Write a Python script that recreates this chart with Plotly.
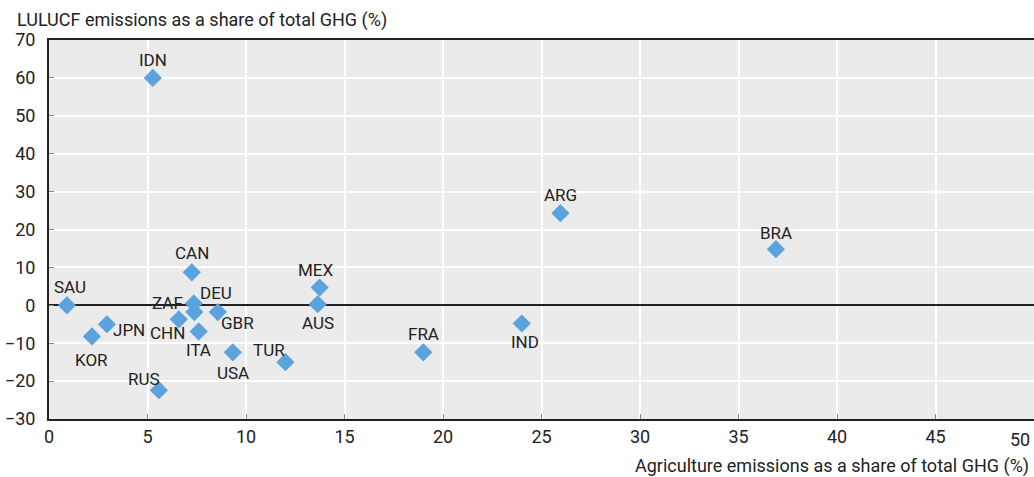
import plotly.graph_objects as go

countries = ["IDN", "SAU", "KOR", "JPN", "RUS", "CHN", "ZAF", "DEU", "CAN", "ITA",
             "GBR", "USA", "TUR", "MEX", "AUS", "FRA", "IND", "ARG", "BRA"]
agri = [5.27, 0.91, 2.18, 2.94, 5.58, 6.59, 7.35, 7.38, 7.25, 7.6,
        8.57, 9.33, 12.0, 13.74, 13.64, 19.0, 24.0, 25.96, 36.9]
lulucf = [60.0, 0.0, -8.2, -5.0, -22.4, -3.7, 0.5, -1.8, 8.7, -6.9,
          -1.8, -12.4, -15.0, 4.7, 0.3, -12.4, -4.8, 24.3, 14.8]
x_ticks = [0, 5, 10, 15, 20, 25, 30, 35, 40, 45, 50]
x_ticktext = ["0", "5", "10", "15", "20", "25", "30", "35", "40", "45", ""]

# label offsets in pixels (dx right, dy up) from each diamond
label_dx = [0, 3, 0, 22, -15, -11, -26, 22, 0, 0, 20, 0, -16, -4, 0, 0, 3, 0, 0]
label_dy = [18, 18, -24, -6, 11, -14, 0, 19, 19, -19, -11, -21, 12, 17, -19, 18, -19, 18, 16]

font = "Roboto, sans-serif"

fig = go.Figure()
fig.add_trace(go.Scatter(
    x=agri, y=lulucf, mode="markers",
    marker=dict(symbol="diamond", size=14, color="#5ba3dc"),
    cliponaxis=False, showlegend=False, hoverinfo="text", text=countries,
))

annotations = [
    dict(text=c, x=xv, y=yv, xref="x", yref="y", xshift=dx, yshift=dy,
         xanchor="center", yanchor="middle", showarrow=False, font=dict(size=17))
    for c, xv, yv, dx, dy in zip(countries, agri, lulucf, label_dx, label_dy)
]
annotations += [
    dict(text="LULUCF emissions as a share of total GHG (%)", xref="paper", yref="paper",
         x=0, y=1, xshift=-34, yshift=7, xanchor="left", yanchor="bottom",
         showarrow=False),
    dict(text="Agriculture emissions as a share of total GHG (%)", xref="paper", yref="paper",
         x=1, y=0, xshift=-3, yshift=-34, xanchor="right", yanchor="top",
         showarrow=False),
    dict(text="50", xref="x", yref="paper", x=50, y=0, xshift=-2, yshift=-8,
         xanchor="right", yanchor="top", showarrow=False),
]

fig.update_layout(
    width=1034, height=477,
    margin=dict(l=49, r=0, t=40, b=58),
    paper_bgcolor="white", plot_bgcolor="#ebebeb",
    font=dict(family=font, size=18, color="#222222"),
    xaxis=dict(range=[0, 50], tickvals=x_ticks, ticktext=x_ticktext,
               showgrid=True, gridcolor="white", gridwidth=1.5,
               zeroline=False, showline=True, linecolor="#222222", linewidth=2, mirror=True,
               ticks="inside", ticklen=5, tickcolor="#888888"),
    yaxis=dict(range=[-30, 70], dtick=10, showgrid=True, gridcolor="white", gridwidth=1.5,
               zeroline=True, zerolinecolor="#222222", zerolinewidth=2,
               showline=True, linecolor="#222222", linewidth=2,
               ticks="inside", ticklen=5, tickcolor="#888888", ticklabelstandoff=8),
    annotations=annotations,
)

fig.write_html("out.html", config={"displayModeBar": False},
               post_script="document.body.style.margin='0';")
